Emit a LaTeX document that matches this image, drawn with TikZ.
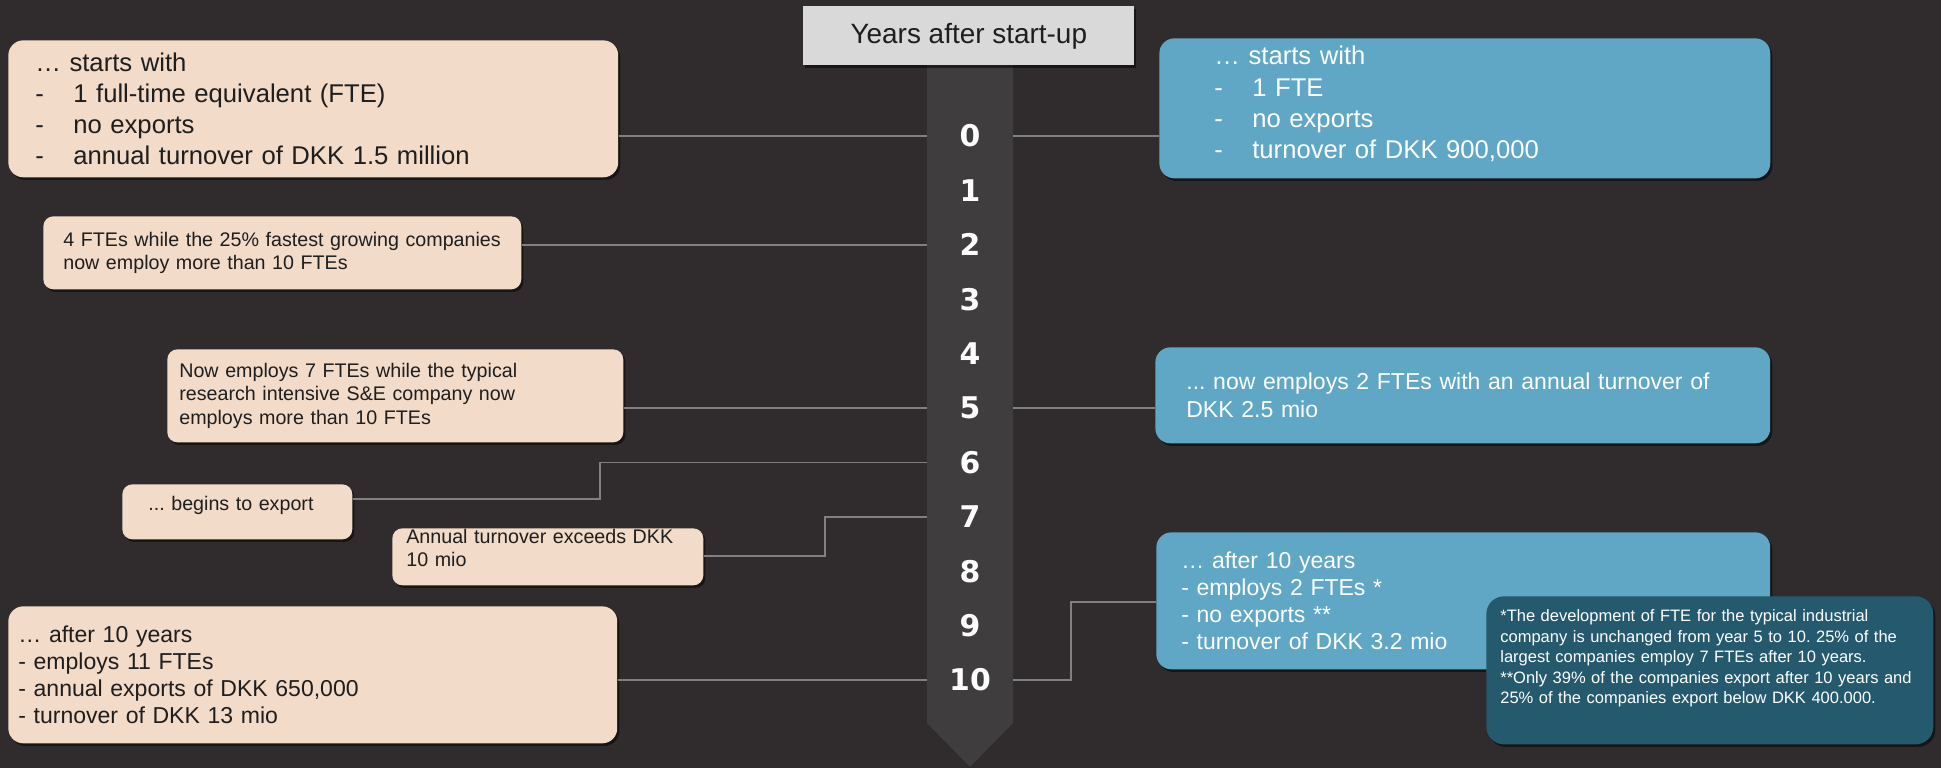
\documentclass[tikz,border=0pt]{standalone}
\usepackage{fontspec}
\setmainfont{Liberation Sans}
\newfontfamily\yearfont{DejaVu Sans}
\usepackage{tikz}
\usetikzlibrary{shadows}
\frenchspacing

\definecolor{bgdark}{RGB}{48,44,45}
\definecolor{spinegray}{RGB}{63,61,62}
\definecolor{headgray}{RGB}{217,217,217}
\definecolor{peach}{RGB}{242,219,200}
\definecolor{skyblue}{RGB}{95,167,197}
\definecolor{deepteal}{RGB}{37,89,109}
\definecolor{linegray}{RGB}{128,128,128}
\definecolor{inkdark}{RGB}{30,30,30}

\newcommand{\dashitem}[1]{\makebox[0.76cm][l]{-}#1}

\tikzset{
  conn/.style={draw=linegray, line width=0.8pt},
  card/.style={rectangle, rounded corners=0.3cm, anchor=north west, align=left,
    inner ysep=0pt,
    drop shadow={shadow xshift=1.2pt, shadow yshift=-1.5pt, opacity=0.5, fill=black}},
  peachcard/.style={card, fill=peach, text=inkdark},
  bluecard/.style={card, fill=skyblue, text=white},
  bigtxt/.style={font=\fontsize{14.6}{17.8}\selectfont},
  midtxt/.style={font=\fontsize{13.1}{15.5}\selectfont},
  smalltxt/.style={font=\fontsize{11.2}{13.4}\selectfont},
  yearnum/.style={text=white, font=\yearfont\fontsize{17}{17}\selectfont\bfseries},
}

\begin{document}
\begin{tikzpicture}[x=0.02cm, y=-0.02cm]
  \useasboundingbox (0,0) rectangle (1941,768);
  \fill[bgdark] (0,0) rectangle (1941,768);

  % timeline
  \fill[spinegray] (927,65) -- (1013,65) -- (1013,723) -- (970,767) -- (927,723) -- cycle;
  \coordinate (spL) at (927,0);
  \coordinate (spR) at (1013,0);
  \node[fill=headgray, text=inkdark, anchor=north west, minimum width=6.62cm,
    minimum height=1.18cm, font=\fontsize{15.9}{18}\selectfont,
    drop shadow={shadow xshift=1.2pt, shadow yshift=-1.5pt, opacity=0.5, fill=black}]
    (head) at (803,6) {Years after start-up};
  \foreach \i in {0,...,10}
    \node[yearnum] (y\i) at (970,{136+54.4*\i}) {\i};

  % left side
  \node[peachcard, bigtxt, inner xsep=0.54cm, text width=11.12cm, minimum height=2.74cm]
    (left0) at (8,40) {… starts with\\ \dashitem{1 full-time equivalent (FTE)}\\
    \dashitem{no exports}\\ \dashitem{annual turnover of DKK 1.5 million}};
  \node[peachcard, smalltxt, rounded corners=0.2cm, inner xsep=0.4cm, text width=8.76cm, minimum height=1.46cm]
    (left2) at (43,216) {4 FTEs while the 25\% fastest growing companies\\ now employ more than 10 FTEs};
  \node[peachcard, smalltxt, rounded corners=0.2cm, inner xsep=0.24cm, text width=8.64cm, minimum height=1.86cm]
    (left5) at (167,349) {Now employs 7 FTEs while the typical\\ research intensive S\&E company now\\ employs more than 10 FTEs};
  \node[peachcard, smalltxt, rounded corners=0.2cm, inner xsep=0.52cm, text width=3.56cm, minimum height=1.1cm]
    (left6) at (122,484) {... begins to export\rule[-0.32cm]{0pt}{0pt}};
  \node[peachcard, smalltxt, rounded corners=0.2cm, inner xsep=0.28cm, text width=5.66cm, minimum height=1.14cm]
    (left7) at (392,528) {Annual turnover exceeds DKK\\ 10 mio\rule[-0.36cm]{0pt}{0pt}};
  \node[peachcard, midtxt, inner xsep=0.2cm, text width=11.78cm, minimum height=2.74cm]
    (left10) at (8,606) {… after 10 years\\ - employs 11 FTEs\\ - annual exports of DKK 650,000\\ - turnover of DKK 13 mio};

  % right side
  \node[bluecard, bigtxt, inner xsep=1.1cm, text width=10.02cm, minimum height=2.8cm]
    (right0) at (1159,38) {… starts with\\ \dashitem{1 FTE}\\ \dashitem{no exports}\\
    \dashitem{turnover of DKK 900,000}\rule[-0.23cm]{0pt}{0pt}};
  \node[bluecard, midtxt, inner xsep=0.62cm, text width=11.06cm, minimum height=1.92cm]
    (right5) at (1155,347) {... now employs 2 FTEs with an annual turnover of\\ DKK 2.5 mio};
  \node[bluecard, midtxt, inner xsep=0.5cm, text width=11.28cm, minimum height=2.74cm]
    (right10) at (1156,532) {… after 10 years\\ - employs 2 FTEs *\\ - no exports **\\ - turnover of DKK 3.2 mio};
  \node[card, fill=deepteal, text=white, rounded corners=0.35cm, inner xsep=0.28cm, text width=8.38cm,
    minimum height=2.96cm, font=\fontsize{9.4}{11.7}\selectfont]
    (note) at (1486,596) {*The development of FTE for the typical industrial\\ company is unchanged from year 5 to 10. 25\% of the\\
    largest companies employ 7 FTEs after 10 years.\\ {**}Only 39\% of the companies export after 10 years and\\
    25\% of the companies export below DKK 400.000.\rule[-0.55cm]{0pt}{0pt}};

  % connectors
  \coordinate (bend6) at (600,499);
  \coordinate (bend7) at (825,556);
  \coordinate (bend10) at (1071,602);
  \draw[conn] (left0.east |- y0) -- (y0 -| spL);
  \draw[conn] (left2.east |- y2) -- (y2 -| spL);
  \draw[conn] (left5.east |- y5) -- (y5 -| spL);
  \draw[conn] (left6.east |- bend6) -- (bend6) |- (y6 -| spL);
  \draw[conn] (left7.east |- bend7) -- (bend7) |- (y7 -| spL);
  \draw[conn] (left10.east |- y10) -- (y10 -| spL);
  \draw[conn] (y0 -| spR) -- (right0.west |- y0);
  \draw[conn] (y5 -| spR) -- (right5.west |- y5);
  \draw[conn] (y10 -| spR) -| (bend10) -- (right10.west |- bend10);
\end{tikzpicture}
\end{document}
